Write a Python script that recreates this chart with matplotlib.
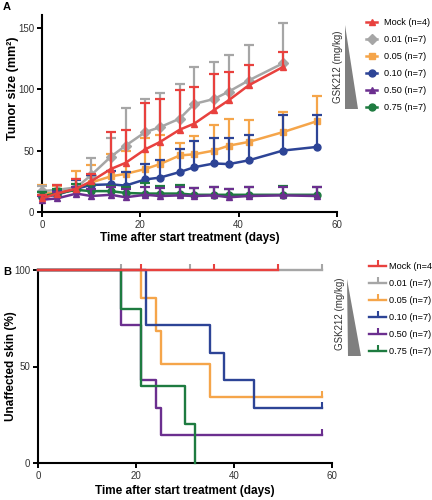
import numpy as np
import matplotlib.pyplot as plt
from matplotlib.patches import Polygon

plt.rcParams['font.family'] = ['Liberation Sans Narrow', 'Liberation Sans', 'DejaVu Sans']

# ---- panel A: tumor size (mean + upper SD) ----
days = [0, 3, 7, 10, 14, 17, 21, 24, 28, 31, 35, 38, 42, 49, 56]

mock_mean = [11, 15, 19, 25, 35, 40, 51, 57, 67, 72, 83, 91, 103, 118]
mock_up = [14, 22, 27, 31, 65, 67, 89, 92, 99, 102, 112, 114, 120, 130]
g001_mean = [17, 18, 20, 30, 45, 54, 65, 69, 76, 88, 92, 98, 107, 121]
g001_up = [21, 22, 27, 44, 60, 85, 92, 97, 104, 118, 122, 128, 136, 154]
g005_mean = [15, 16, 19, 24, 29, 31, 35, 39, 46, 47, 50, 54, 57, 65, 74]
g005_up = [22, 21, 33, 38, 47, 50, 60, 63, 56, 62, 71, 76, 75, 81, 94]
g010_mean = [12, 14, 19, 22, 22.5, 21.5, 26.5, 28, 32.5, 36.5, 39.5, 39, 42, 50, 53]
g010_up = [16, 18, 26, 30, 33, 32.5, 39, 42.5, 51.5, 58, 60.5, 60.5, 63, 79, 79]
g050_mean = [10, 11, 15, 13, 14, 12, 14, 13, 13.5, 13, 13.5, 12, 13, 13.5, 13]
g050_up = [13, 16, 20, 19, 20, 19, 20, 19.5, 20, 19.5, 20, 19, 20, 20.5, 20]
g075_mean = [13, 15, 18, 17, 17, 15.5, 15, 15, 15, 14, 14, 14, 14, 14, 14]
g075_up = [16, 19, 23, 22, 21, 20, 23.5, 21, 22, 19.5, 20, 19, 20, 21, 20]

# ---- panel B: unaffected skin (Kaplan-Meier) ----
km_mock_t = [0, 49]
km_mock_s = [100, 100]
km_mock_cens = [21, 36, 49]
km_g001_t = [0, 58]
km_g001_s = [100, 100]
km_g001_cens = [17, 31, 58]
km_g005_t = [0, 21, 24, 25, 35, 58]
km_g005_s = [100, 85.7, 68.6, 51.4, 34.3, 34.3]
km_g010_t = [0, 22, 35, 38, 44, 58]
km_g010_s = [100, 71.4, 57.1, 42.9, 28.6, 28.6]
km_g050_t = [0, 17, 21, 24, 25, 58]
km_g050_s = [100, 71.4, 42.9, 28.6, 14.3, 14.3]
km_g075_t = [0, 17, 21, 30, 32]
km_g075_s = [100, 80, 40, 20, 0]

labels = ['Mock (n=4)', '0.01 (n=7)', '0.05 (n=7)', '0.10 (n=7)', '0.50 (n=7)', '0.75 (n=7)']
colors = ['#e8413e', '#a6a6a6', '#f5a54a', '#2d4496', '#6b2f8f', '#1e7b40']
markers = ['^', 'D', 's', 'o', '^', 'o']

W, H = 432, 500
fig = plt.figure(figsize=(W / 100, H / 100), dpi=100)


def style_axes(ax):
    for s in ['top', 'right']:
        ax.spines[s].set_visible(False)
    for s in ['left', 'bottom']:
        ax.spines[s].set_linewidth(1.5)
    ax.tick_params(direction='out', length=3.5, width=1.4, labelsize=7,
                   labelcolor='#333333', pad=2)


# panel A
axA = fig.add_axes([42 / W, 1 - 212 / H, 295 / W, 196.6 / H])
series = [(mock_mean, mock_up), (g001_mean, g001_up), (g005_mean, g005_up),
          (g010_mean, g010_up), (g050_mean, g050_up), (g075_mean, g075_up)]
zorders = [8, 4, 3, 5, 7, 6]
handles = []
for i, (m, u) in enumerate(series):
    d = np.array(days[:len(m)])
    m = np.array(m)
    u = np.array(u)
    err = [np.zeros_like(m), u - m]
    cont = axA.errorbar(d, m, yerr=err, color=colors[i], lw=1.8, elinewidth=1.6,
                        capsize=3.8, capthick=1.6, marker=markers[i], ms=5,
                        zorder=zorders[i], clip_on=False)
    cont[1][0].set_visible(False)
    for a in cont[2]:
        a.set_clip_on(False)
    for c in cont[1]:
        c.set_clip_on(False)
    handles.append(cont[0])

axA.set_xlim(0, 60)
axA.set_ylim(0, 160)
axA.set_xticks([0, 20, 40, 60])
axA.set_yticks([0, 50, 100, 150])
style_axes(axA)
axA.set_xlabel('Time after start treatment (days)', fontsize=8.5, fontweight='bold')
axA.set_ylabel('Tumor size (mm²)', fontsize=9, fontweight='bold')
axA.xaxis.set_label_coords(0.5, -0.10)
axA.yaxis.set_label_coords(-0.078, 0.63)

axA.legend(handles, labels, loc='upper left', bbox_to_anchor=(366 / W, 1 - 18 / H),
           bbox_transform=fig.transFigure, frameon=False, fontsize=6.6,
           handlelength=1.2, handletextpad=0.8, labelspacing=0.88, borderpad=0,
           borderaxespad=0)

# panel B
axB = fig.add_axes([38 / W, 1 - 463 / H, 294 / W, 193 / H])
km = [(km_mock_t, km_mock_s, km_mock_cens), (km_g001_t, km_g001_s, km_g001_cens),
      (km_g005_t, km_g005_s, [58]), (km_g010_t, km_g010_s, [58]),
      (km_g050_t, km_g050_s, [58]), (km_g075_t, km_g075_s, [])]
zb = [8, 3, 4, 5, 6, 7]
handlesB = []
for i, (t, s, cens) in enumerate(km):
    axB.step(t, s, where='post', color=colors[i], lw=1.7, zorder=zb[i], clip_on=False)
    if cens:
        cs = [s[np.searchsorted(t, c, side='right') - 1] for c in cens]
        axB.plot(cens, cs, ls='none', marker=2, ms=4, mew=1.5, color=colors[i],
                 zorder=zb[i], clip_on=False)
    handlesB.append(plt.Line2D([], [], color=colors[i], lw=1.7, marker=2, ms=4, mew=1.5))

axB.set_xlim(0, 60)
axB.set_ylim(0, 100)
axB.set_xticks([0, 20, 40, 60])
axB.set_yticks([0, 50, 100])
style_axes(axB)
axB.set_xlabel('Time after start treatment (days)', fontsize=8.5, fontweight='bold')
axB.set_ylabel('Unaffected skin (%)', fontsize=8.5, fontweight='bold')
axB.xaxis.set_label_coords(0.5, -0.115)
axB.yaxis.set_label_coords(-0.072, 0.5)

axB.legend(handlesB, labels, loc='upper left', bbox_to_anchor=(369 / W, 1 - 262 / H),
           bbox_transform=fig.transFigure, frameon=False, fontsize=6.6,
           handlelength=1.9, handletextpad=0.25, labelspacing=0.88, borderpad=0,
           borderaxespad=0)

# dose wedges and captions
for tri, ty in [([(345, 25), (345, 109), (358, 109)], 67),
                ([(347, 279), (348, 356), (361, 356)], 314)]:
    pts = [(x / W, 1 - y / H) for x, y in tri]
    fig.add_artist(Polygon(pts, closed=True, transform=fig.transFigure,
                           facecolor='#7f7f7f', edgecolor='none'))
    fig.text((tri[0][0] - 7) / W, 1 - ty / H, 'GSK212 (mg/kg)', rotation=90,
             ha='center', va='center', fontsize=7, color='#333333')

fig.text(3 / W, 1 - 2 / H, 'A', fontsize=8, fontweight='bold', va='top')
fig.text(3 / W, 1 - 272 / H, 'B', fontsize=8, fontweight='bold', va='center')

fig.savefig('out.png', dpi=100)
